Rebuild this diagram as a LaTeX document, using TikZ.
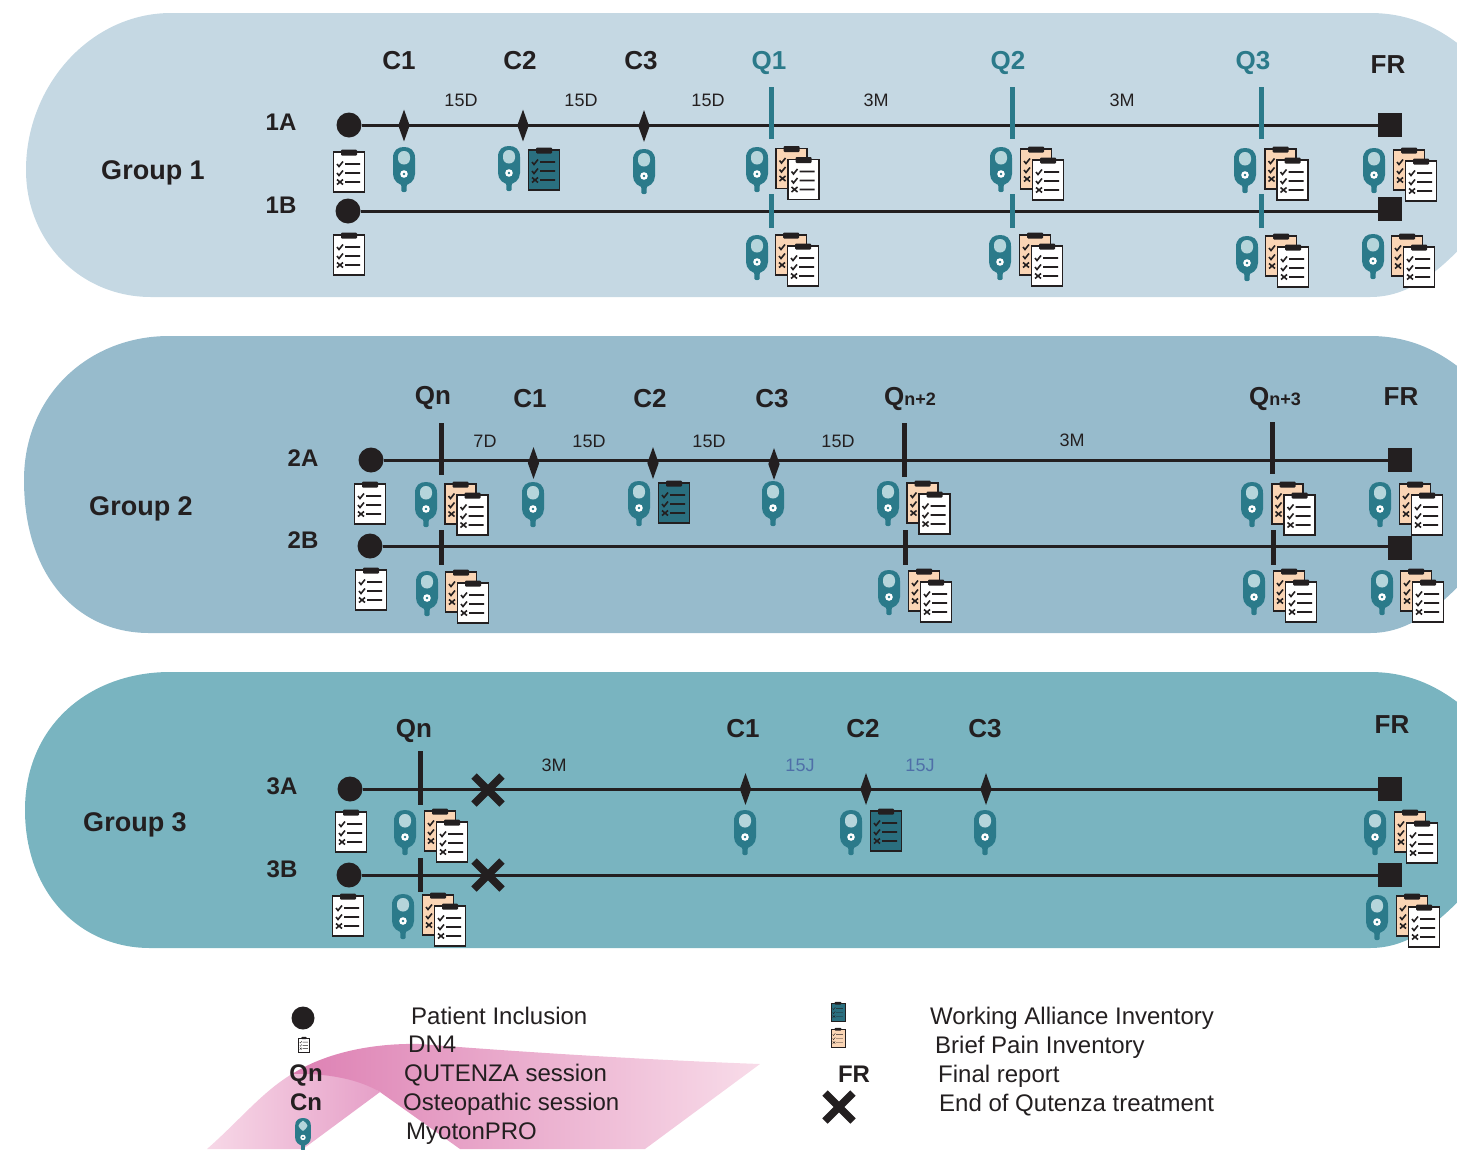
\documentclass[tikz,border=0pt]{standalone}
\usepackage{fontspec}
\setmainfont{Liberation Sans}
\usetikzlibrary{shapes.geometric}
\definecolor{ink}{HTML}{231F20}
\definecolor{bandA}{HTML}{C5D8E3}
\definecolor{bandB}{HTML}{97BBCC}
\definecolor{bandC}{HTML}{79B4C0}
\definecolor{teal}{HTML}{2B7A8A}
\definecolor{tealclip}{HTML}{2A6F7F}
\definecolor{peach}{HTML}{FAD5B5}
\definecolor{lightoval}{HTML}{B5D5DB}
\definecolor{qblue}{HTML}{4F6FA8}
\definecolor{ribA}{HTML}{F7D8E7}
\definecolor{ribB}{HTML}{E6A0C8}
\definecolor{ribC}{HTML}{DD80B3}
\definecolor{ribD}{HTML}{F8DCE9}
\def\clw{1.6pt}
\newcommand\clipbody[2]{%
  \draw[draw=ink,fill=#1,line width=\clw] (-15.5,-20) rectangle (15.5,20);
  \fill[ink,rounded corners=1pt] (-8,-22.5) rectangle (8,-16.5);
  \draw[draw=#2,line width=\clw] (-12,-8) -- (-10,-5.5) -- (-6,-10.5) (-4,-8) -- (11,-8);
  \draw[draw=#2,line width=\clw] (-12,1) -- (-10,3.5) -- (-6,-1.5) (-4,1) -- (11,1);
  \draw[draw=#2,line width=\clw] (-12,7.5) -- (-6,12.5) (-12,12.5) -- (-6,7.5) (-4,10) -- (11,10);
}
\tikzset{
  x=1pt,y=-1pt,
  lab/.style={font=\fontsize{18}{18}\selectfont,text=ink,inner sep=0pt,text height=13pt,text depth=0pt},
  blab/.style={font=\fontsize{26}{26}\selectfont\bfseries,text=ink,inner sep=0pt,text height=18pt,text depth=0pt},
  qlab/.style={blab,text=teal},
  rowlab/.style={font=\fontsize{24}{24}\selectfont\bfseries,text=ink,inner sep=0pt,text height=17pt,text depth=0pt},
  grp/.style={font=\fontsize{27}{27}\selectfont\bfseries,text=ink,inner sep=0pt,text height=19pt,text depth=0pt},
  leg/.style={font=\fontsize{24}{24}\selectfont,text=ink,inner sep=0pt,anchor=west,text height=17pt,text depth=0pt},
  jlab/.style={lab,text=qblue},
  start/.style={circle,fill=ink,minimum size=25pt,inner sep=0pt},
  finish/.style={rectangle,fill=ink,minimum size=24pt,inner sep=0pt},
  sess/.style={diamond,fill=ink,minimum width=11.5pt,minimum height=32pt,inner sep=0pt},
  tickq/.style={rectangle,fill=teal,minimum width=5pt,inner sep=0pt},
  tickk/.style={rectangle,fill=ink,minimum width=5pt,inner sep=0pt},
  tline/.style={draw=ink,line width=3pt},
  sensor/.pic={
    \fill[teal] (-3,34) -- (3,34) -- (2.5,44) .. controls (2,45.5) and (-2,45.5) .. (-2.5,44) -- cycle;
    \fill[teal] (-11,11) .. controls (-11,3) and (-6,0) .. (0,0) .. controls (6,0) and (11,3) .. (11,11)
      -- (11,27) .. controls (11,34) and (5,38) .. (0,38.5) .. controls (-5,38) and (-11,34) .. (-11,27) -- cycle;
    \fill[lightoval,rounded corners=5.8pt] (-6,4) rectangle (6,17.5);
    \fill[white] (0,27) circle (3.8);
    \fill[teal] (0,27) circle (1.4);
  },
  whiteclip/.pic={\clipbody{white}{ink}},
  tealclipb/.pic={\clipbody{tealclip}{ink}},
  peachclip/.pic={\clipbody{peach}{ink}},
  dbl/.pic={
    \begin{scope}\clipbody{peach}{ink}\end{scope}
    \begin{scope}[shift={(12,11)}]\clipbody{white}{ink}\end{scope}
  },
  endmark/.pic={\draw[ink,line width=7.5pt] (-14,-14) -- (14,14) (-14,14) -- (14,-14);},
}
\newcommand\band[5]{% colour, left x, top, mid, bottom
  \fill[#1] (#2,#4) .. controls (#2,#4-85) and (#2+65,#3) .. (#2+145,#3)
    -- (1370,#3) .. controls (1410,#3) and (1445,#3+15) .. (1480,#3+50)
    -- (1480,#5-70) .. controls (1440,#5-25) and (1410,#5) .. (1370,#5)
    -- (#2+125,#5) .. controls (#2+55,#5) and (#2,#5-55) .. (#2,#4) -- cycle;
}
\newcommand\sens[2]{\pic at (#1,#2) {sensor};}
\newcommand\wclip[2]{\pic at (#1,#2) {whiteclip};}
\newcommand\dclip[2]{\pic at (#1,#2) {dbl};}
\newcommand\tclip[2]{\pic at (#1,#2) {tealclipb};}
\begin{document}
\begin{tikzpicture}
\useasboundingbox (0,0) rectangle (1457,1149);
\begin{scope}
\clip (0,0) rectangle (1457,1149);
\band{bandA}{26}{13}{170}{297}
\band{bandB}{24}{336}{480}{633}
\band{bandC}{25}{672}{810}{948}
% legend ribbon
\shade[left color=ribA,right color=ribB]
  (207,1149) .. controls (240,1120) and (262,1092) .. (292,1074)
  .. controls (330,1073) and (360,1078) .. (380,1092) -- (303,1149) -- cycle;
\shade[left color=ribC,right color=ribD]
  (292,1074) .. controls (330,1050) and (380,1043) .. (420,1044)
  .. controls (520,1052) and (650,1060) .. (760,1064) -- (645,1149) -- (460,1149) -- (380,1092)
  .. controls (360,1080) and (330,1073) .. (292,1074) -- cycle;
\end{scope}

% ---------- Group 1
\node[grp] (g1) at (153,170) {Group 1};
\node[rowlab] (r1a) at (281,122) {1A};
\node[rowlab] (r1b) at (281,205) {1B};
\node[blab] (l1c1) at (399,60) {C1};
\node[blab] (l1c2) at (520,60) {C2};
\node[blab] (l1c3) at (641,60) {C3};
\node[qlab] (l1q1) at (769,60) {Q1};
\node[qlab] (l1q2) at (1008,60) {Q2};
\node[qlab] (l1q3) at (1253,60) {Q3};
\node[blab] (l1fr) at (1388,64) {FR};
\node[lab] (d1a) at (461,100) {15D};
\node[lab] (d1b) at (581,100) {15D};
\node[lab] (d1c) at (708,100) {15D};
\node[lab] (d1d) at (876,100) {3M};
\node[lab] (d1e) at (1122,100) {3M};
\node[start] (s1a) at (349,125) {};
\node[finish] (f1a) at (1390,125) {};
\node[start] (s1b) at (348,211) {};
\node[finish] (f1b) at (1390,209) {};
\draw[tline] (s1a) -- (f1a);
\draw[tline] (s1b.east) -- (f1b.west |- s1b.east);
\node[sess] (c1a1) at (404,125.5) {};
\node[sess] (c1a2) at (523,125.5) {};
\node[sess] (c1a3) at (644,126) {};
\foreach \n/\x in {1/771,2/1012,3/1261}{
  \node[tickq,minimum height=52pt] (q1a\n) at (\x,113) {};
  \node[tickq,minimum height=34pt] (q1b\n) at (\x,211) {};
}
\wclip{349}{172}
\sens{404}{147} \sens{509}{146} \sens{644}{149} \sens{757}{147} \sens{1001}{147} \sens{1245}{148} \sens{1374}{148}
\tclip{544}{170}
\dclip{791.5}{168.5} \dclip{1036}{169} \dclip{1280.5}{169} \dclip{1409}{170}
\wclip{349}{255}
\sens{757}{235} \sens{1000}{235} \sens{1247}{236} \sens{1373}{234}
\dclip{791}{255} \dclip{1035}{255} \dclip{1281}{256} \dclip{1407}{256}

% ---------- Group 2
\node[grp] (g2) at (141,506) {Group 2};
\node[rowlab] (r2a) at (303,458) {2A};
\node[rowlab] (r2b) at (303,540) {2B};
\node[blab] (l2qn) at (433,395) {Qn};
\node[blab] (l2c1) at (530,398) {C1};
\node[blab] (l2c2) at (650,398) {C2};
\node[blab] (l2c3) at (772,398) {C3};
\node[blab] (l2q2) at (910,396) {Q{\fontsize{18}{18}\selectfont n+2}};
\node[blab] (l2q3) at (1275,396) {Q{\fontsize{18}{18}\selectfont n+3}};
\node[blab] (l2fr) at (1401,396) {FR};
\node[lab] (d2a) at (485,441) {7D};
\node[lab] (d2b) at (589,441) {15D};
\node[lab] (d2c) at (709,441) {15D};
\node[lab] (d2d) at (838,441) {15D};
\node[lab] (d2e) at (1072,440) {3M};
\node[start] (s2a) at (371,460) {};
\node[finish] (f2a) at (1400,460) {};
\node[start] (s2b) at (370,546) {};
\node[finish] (f2b) at (1400,548) {};
\draw[tline] (s2a) -- (f2a);
\draw[tline] (s2b.east) -- (f2b.west |- s2b.east);
\node[sess] (c2a1) at (533.5,463) {};
\node[sess] (c2a2) at (653,463) {};
\node[sess] (c2a3) at (774,464) {};
\node[tickk,minimum height=52pt] (q2a1) at (441,449) {};
\node[tickk,minimum height=54pt] (q2a2) at (904,450) {};
\node[tickk,minimum height=52pt] (q2a3) at (1272,448) {};
\node[tickk,minimum height=35pt] (q2b1) at (441,547) {};
\node[tickk,minimum height=35pt] (q2b2) at (905,547) {};
\node[tickk,minimum height=35pt] (q2b3) at (1273,547) {};
\wclip{370}{504}
\sens{426}{482} \sens{533}{482} \sens{639}{481} \sens{773}{481} \sens{888}{481} \sens{1252}{482} \sens{1380}{482}
\tclip{674}{503}
\dclip{460.5}{504} \dclip{922.5}{503} \dclip{1287.5}{504} \dclip{1415}{504}
\wclip{371}{590}
\sens{427}{571} \sens{889}{570} \sens{1254}{570} \sens{1382}{570}
\dclip{461}{592} \dclip{924}{591} \dclip{1289}{591} \dclip{1416}{591}

% ---------- Group 3
\node[grp] (g3) at (135,822) {Group 3};
\node[rowlab] (r3a) at (282,786) {3A};
\node[rowlab] (r3b) at (282,869) {3B};
\node[blab] (l3qn) at (414,728) {Qn};
\node[blab] (l3c1) at (743,728) {C1};
\node[blab] (l3c2) at (863,728) {C2};
\node[blab] (l3c3) at (985,728) {C3};
\node[blab] (l3fr) at (1392,724) {FR};
\node[lab] (d3a) at (554,765) {3M};
\node[jlab] (d3b) at (800,765) {15J};
\node[jlab] (d3c) at (920,765) {15J};
\node[start] (s3a) at (350,789) {};
\node[finish] (f3a) at (1390,789) {};
\node[start] (s3b) at (349,875) {};
\node[finish] (f3b) at (1390,875) {};
\draw[tline] (s3a) -- (f3a);
\draw[tline] (s3b) -- (f3b);
\node[sess] (c3a1) at (745.5,789) {};
\node[sess] (c3a2) at (866,789) {};
\node[sess] (c3a3) at (986,789) {};
\node[tickk,minimum height=54pt] (q3a1) at (420,778) {};
\node[tickk,minimum height=34pt] (q3b1) at (420,875) {};
\pic at (488,790) {endmark};
\pic at (488,875) {endmark};
\wclip{351}{832}
\sens{405}{810} \sens{745}{810} \sens{851}{810} \sens{985}{810} \sens{1375}{810}
\tclip{886}{831}
\dclip{440}{831} \dclip{1410}{832}
\wclip{348}{916}
\sens{403}{894} \sens{1377}{895}
\dclip{438}{915} \dclip{1412}{916}

% ---------- Legend
\node[start,minimum size=23pt] (k1) at (303,1018) {};
\begin{scope}
  \def\clw{0.35pt}
  \pic[scale=0.36] at (304,1045) {whiteclip};
  \pic[scale=0.45] at (838,1012) {tealclipb};
  \pic[scale=0.45] at (838,1038) {peachclip};
\end{scope}
\node[rowlab] (k3) at (306,1073) {Qn};
\node[rowlab] (k4) at (306,1102) {Cn};
\pic[scale=0.72] at (303,1118) {sensor};
\node[leg] (t1) at (411,1016) {Patient Inclusion};
\node[leg] (t2) at (408,1044) {DN4};
\node[leg] (t3) at (404,1073) {QUTENZA session};
\node[leg] (t4) at (403,1102) {Osteopathic session};
\node[leg] (t5) at (406,1131) {MyotonPRO};
\node[rowlab] (k8) at (854,1074) {FR};
\pic at (839,1107) {endmark};
\node[leg] (t6) at (930,1016) {Working Alliance Inventory};
\node[leg] (t7) at (935,1045) {Brief Pain Inventory};
\node[leg] (t8) at (938,1074) {Final report};
\node[leg] (t9) at (939,1103) {End of Qutenza treatment};
\end{tikzpicture}
\end{document}
